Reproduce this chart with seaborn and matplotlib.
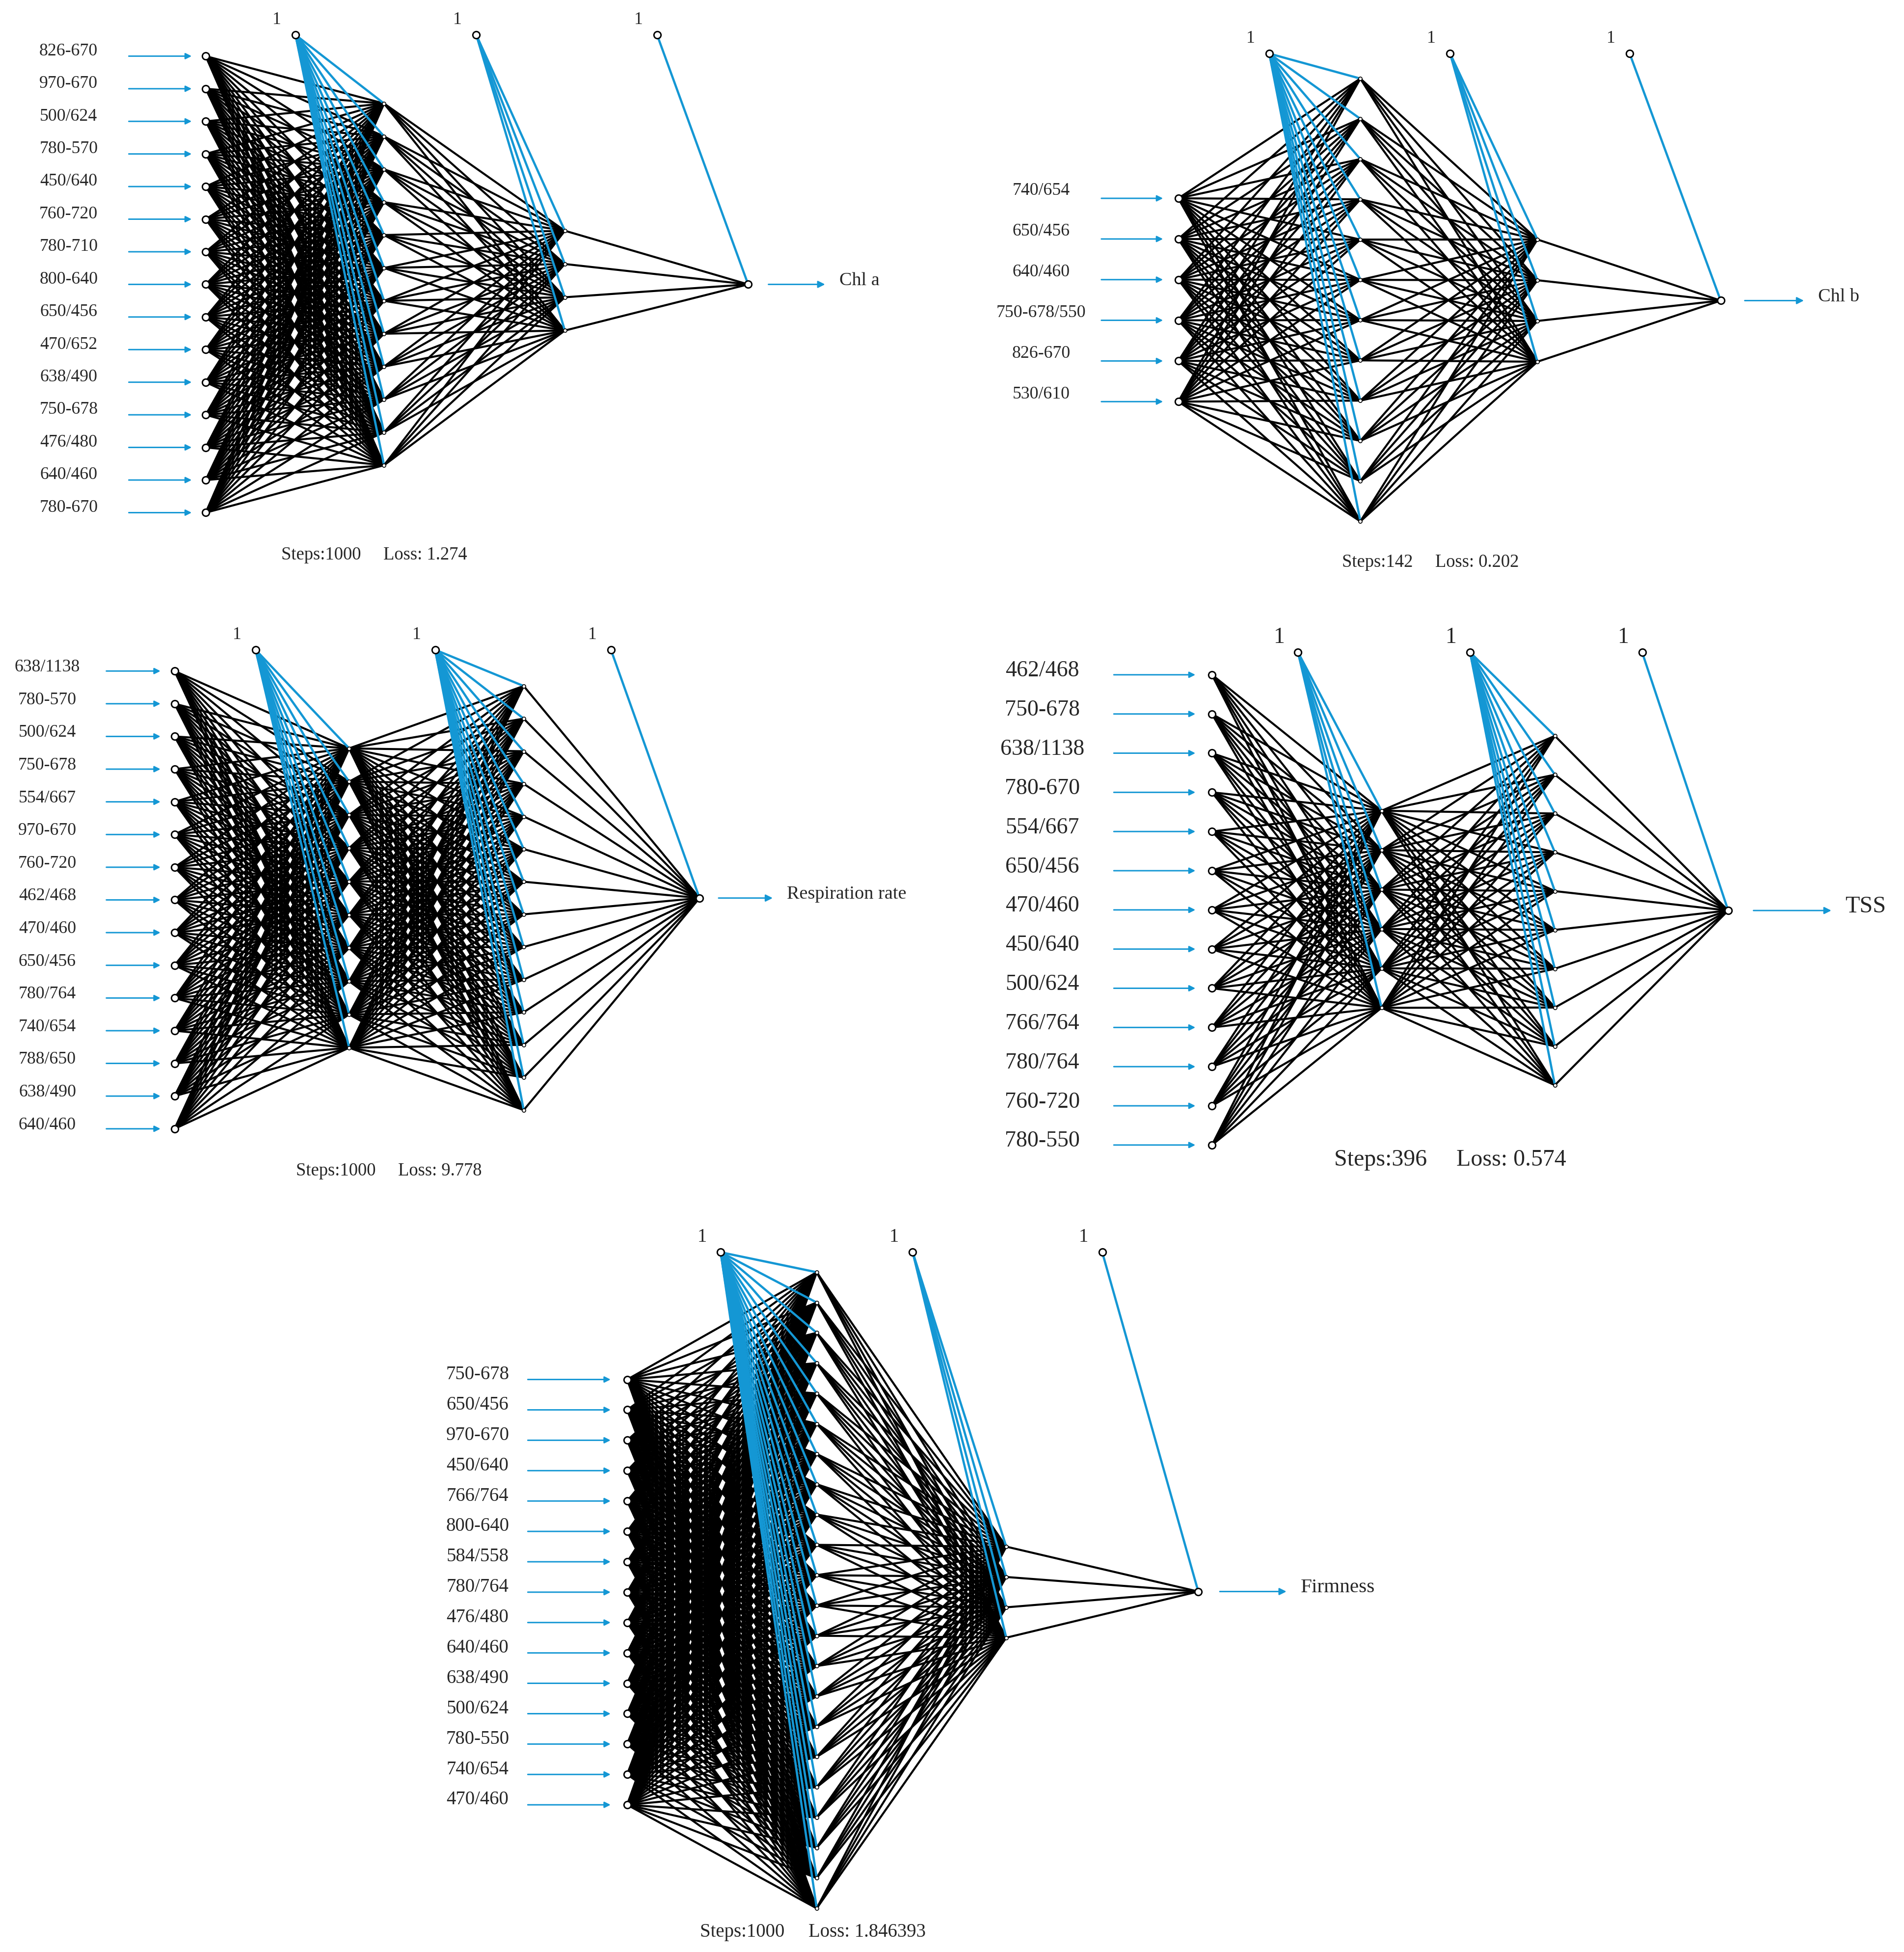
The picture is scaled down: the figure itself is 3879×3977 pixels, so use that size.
import matplotlib
matplotlib.use("Agg")
import matplotlib.pyplot as plt
import seaborn as sns
import pandas as pd
import numpy as np
from matplotlib.collections import LineCollection

sns.set_theme(style="white")
plt.rcParams['font.family'] = ['Liberation Serif', 'DejaVu Serif']

# ---- data ----
chla_inputs = ["826-670","970-670","500/624","780-570","450/640","760-720","780-710","800-640",
               "650/456","470/652","638/490","750-678","476/480","640/460","780-670"]
chlb_inputs = ["740/654","650/456","640/460","750-678/550","826-670","530/610"]
resp_inputs = ["638/1138","780-570","500/624","750-678","554/667","970-670","760-720","462/468",
               "470/460","650/456","780/764","740/654","788/650","638/490","640/460"]
tss_inputs = ["462/468","750-678","638/1138","780-670","554/667","650/456","470/460","450/640",
              "500/624","766/764","780/764","760-720","780-550"]
firm_inputs = ["750-678","650/456","970-670","450/640","766/764","800-640","584/558","780/764",
               "476/480","640/460","638/490","500/624","780-550","740/654","470/460"]
hidden_sizes = {"Chl a": (12, 4), "Chl b": (12, 4), "Respiration rate": (10, 14),
                "TSS": (6, 10), "Firmness": (22, 4)}
steps = {"Chl a": 1000, "Chl b": 142, "Respiration rate": 1000, "TSS": 396, "Firmness": 1000}
losses = {"Chl a": "1.274", "Chl b": "0.202", "Respiration rate": "9.778", "TSS": "0.574",
          "Firmness": "1.846393"}
inputs = {"Chl a": chla_inputs, "Chl b": chlb_inputs, "Respiration rate": resp_inputs,
          "TSS": tss_inputs, "Firmness": firm_inputs}

# ---- layout (display coordinates of a 1527 x 1565 canvas) ----
layout = {
 "Chl a": dict(x=[165, 308, 453, 600], y=[(45, 411), (83, 373), (185, 265), (228, 228)],
               bx=[237, 382, 527], by=28, lab_x=55, arr=(100, 157), out_arr=(613, 665),
               text=(300, 445), fs=8.6, tfs=8.8, lab_dy=-4),
 "Chl b": dict(x=[945, 1091, 1233, 1380], y=[(159, 322), (63, 418), (192, 290), (241, 241)],
               bx=[1018, 1163, 1307], by=43, lab_x=835, arr=(880, 936), out_arr=(1396, 1450),
               text=(1147, 451), fs=8.6, tfs=8.8, lab_dy=-6),
 "Respiration rate": dict(x=[140, 280, 420, 561], y=[(538, 905), (600, 840), (550, 890), (720, 720)],
               bx=[205, 349, 490], by=521, lab_x=38, arr=(82, 132), out_arr=(573, 623),
               text=(312, 939), fs=8.6, tfs=8.8, lab_dy=-3),
 "TSS": dict(x=[972, 1108, 1247, 1386], y=[(541, 918), (650, 808), (590, 870), (730, 730)],
               bx=[1041, 1179, 1317], by=523, lab_x=836, arr=(890, 962), out_arr=(1403, 1472),
               text=(1163, 930), fs=11, tfs=11.5, lab_dy=-3),
 "Firmness": dict(x=[503, 655, 807, 961], y=[(1106, 1447), (1020, 1530), (1240, 1313), (1276, 1276)],
               bx=[578, 732, 884], by=1004, lab_x=383, arr=(420, 493), out_arr=(975, 1035),
               text=(652, 1549), fs=9.3, tfs=9.3, lab_dy=-4),
}
bias_lab_dx = -15
BLUE = "#1497d4"

fig = plt.figure(figsize=(3879/300, 3977/300), dpi=300)
ax = fig.add_axes([0, 0, 1, 1])
ax.set_xlim(0, 1527)
ax.set_ylim(1565, 0)
ax.axis("off")

node_rows = []
for name, L in layout.items():
    sizes = [len(inputs[name]), *hidden_sizes[name], 1]
    layers = []
    for i, n in enumerate(sizes):
        y0, y1 = L["y"][i]
        ys = np.linspace(y0, y1, n) if n > 1 else np.array([y0])
        layers.append(np.column_stack([np.full(n, L["x"][i]), ys]))
    # black weights
    segs = []
    for a, b in zip(layers[:-1], layers[1:]):
        for p in a:
            for q in b:
                segs.append([p, q])
    ax.add_collection(LineCollection(segs, colors="black", linewidths=1.0, zorder=1))
    # bias weights
    bsegs = []
    for k in range(3):
        bp = (L["bx"][k], L["by"])
        for q in layers[k + 1]:
            bsegs.append([bp, q])
        ax.text(L["bx"][k] + bias_lab_dx, L["by"] - 12, "1", fontsize=L["fs"], ha="center", va="center")
        node_rows.append(dict(x=bp[0], y=bp[1], kind="bias"))
    ax.add_collection(LineCollection(bsegs, colors=BLUE, linewidths=1.1, zorder=2))
    for i, lay in enumerate(layers):
        for p in lay:
            node_rows.append(dict(x=p[0], y=p[1], kind="input" if i == 0 else ("out" if i == len(layers) - 1 else "hidden")))
    # input labels and arrows
    for lab, p in zip(inputs[name], layers[0]):
        ax.text(L["lab_x"], p[1] + L["lab_dy"], lab, fontsize=L["fs"], ha="center", va="center")
        ax.annotate("", xy=(L["arr"][1], p[1]), xytext=(L["arr"][0], p[1]),
                    arrowprops=dict(arrowstyle="-|>", color=BLUE, lw=0.7, mutation_scale=6))
    op = layers[-1][0]
    ax.annotate("", xy=(L["out_arr"][1], op[1]), xytext=(L["out_arr"][0], op[1]),
                arrowprops=dict(arrowstyle="-|>", color=BLUE, lw=0.7, mutation_scale=7))
    ax.text(L["out_arr"][1] + 8, op[1] - 3, name, fontsize=L["fs"] + 0.6, ha="left", va="center")
    ax.text(L["text"][0], L["text"][1], f"Steps:{steps[name]}     Loss: {losses[name]}",
            fontsize=L["tfs"], ha="center", va="center")

nodes = pd.DataFrame(node_rows)
big = nodes[nodes.kind != "hidden"]
sns.scatterplot(data=big, x="x", y="y", ax=ax, s=12, color="white", edgecolor="black",
                linewidth=0.7, zorder=5, legend=False)
small = nodes[nodes.kind == "hidden"]
sns.scatterplot(data=small, x="x", y="y", ax=ax, s=3, color="white", edgecolor="black",
                linewidth=0.4, zorder=5, legend=False)
ax.set_xlim(0, 1527)
ax.set_ylim(1565, 0)
ax.axis("off")

fig.savefig("out.png", dpi=300, facecolor="white")
